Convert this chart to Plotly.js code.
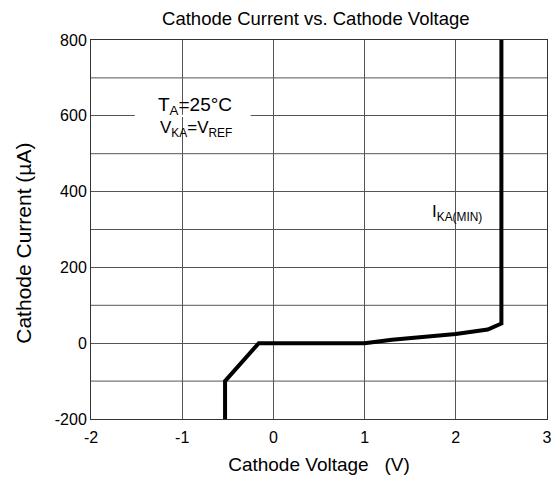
<!DOCTYPE html>
<html>
<head>
<meta charset="utf-8">
<script src="https://cdn.plot.ly/plotly-3.0.1.min.js"></script>
<style>html,body{margin:0;padding:0;background:#fff;}#chart{width:557px;height:480px;}</style>
</head>
<body>
<div id="chart"></div>
<script>
var voltage = [-0.53, -0.53, -0.16, 1.0, 1.3, 1.6, 2.0, 2.35, 2.5, 2.5];
var current = [-200, -100, 0, 0, 9, 16, 24, 36, 52, 800];
var xTicks = [-2, -1, 0, 1, 2, 3];
var yTicks = [-200, 0, 200, 400, 600, 800];
var yGrid = [-100, 100, 300, 500, 700];

var shapes = yGrid.map(function (v) {
  return {type: 'line', xref: 'paper', x0: 0, x1: 1, yref: 'y', y0: v, y1: v,
          line: {color: '#555', width: 1}, layer: 'below'};
});
shapes.push({type: 'rect', xref: 'x', yref: 'y', x0: -1.52, x1: -0.25, y0: 597, y1: 603,
             fillcolor: '#fff', line: {width: 0}, layer: 'between'});

var data = [{
  x: voltage, y: current, type: 'scatter', mode: 'lines',
  line: {color: '#000', width: 4}, hoverinfo: 'skip'
}];

var fam = 'Arial, "Liberation Sans", sans-serif';
var tickFont = {family: fam, size: 16, color: '#000'};

var layout = {
  width: 557, height: 480,
  margin: {l: 91, r: 10, t: 40, b: 60.5},
  paper_bgcolor: '#fff', plot_bgcolor: '#fff',
  font: tickFont,
  showlegend: false,
  title: {text: 'Cathode Current vs. Cathode Voltage', font: {family: fam, size: 18.5, color: '#000'},
          x: 0.567, xanchor: 'center', y: 0.975, yanchor: 'top'},
  xaxis: {
    range: [-2, 3], tickvals: xTicks, ticktext: xTicks.map(String),
    showgrid: true, gridcolor: '#555', gridwidth: 1, zeroline: false,
    showline: true, linecolor: '#333', linewidth: 1, mirror: true,
    ticks: '', ticklen: 0, tickfont: tickFont, ticklabelstandoff: 4,
    title: {text: 'Cathode Voltage   (V)', font: {family: fam, size: 19, color: '#000'}, standoff: 12}
  },
  yaxis: {
    range: [-200, 800], tickvals: yTicks, ticktext: yTicks.map(String),
    showgrid: true, gridcolor: '#555', gridwidth: 1, zeroline: false,
    showline: true, linecolor: '#333', linewidth: 1, mirror: true,
    ticks: '', tickfont: tickFont
  },
  shapes: shapes,
  annotations: [
    {xref: 'paper', yref: 'paper', x: -0.147, y: 0.465, text: 'Cathode Current (µA)', showarrow: false,
     textangle: -90, font: {family: fam, size: 21, color: '#000'}, xanchor: 'center', yanchor: 'middle'},
    {xref: 'x', yref: 'y', x: -0.865, y: 627, text: 'T<sub>A</sub>=25°C', showarrow: false,
     font: {family: fam, size: 19, color: '#000'}, xanchor: 'center'},
    {xref: 'x', yref: 'y', x: -0.85, y: 566, text: 'V<sub>KA</sub>=V<sub>REF</sub>', showarrow: false,
     font: {family: fam, size: 17, color: '#000'}, xanchor: 'center'},
    {xref: 'x', yref: 'y', x: 2.01, y: 343, text: 'I<sub>KA(MIN)</sub>', showarrow: false,
     font: {family: fam, size: 17, color: '#000'}, xanchor: 'center'}
  ]
};

Plotly.newPlot('chart', data, layout, {staticPlot: true});
</script>
</body>
</html>
